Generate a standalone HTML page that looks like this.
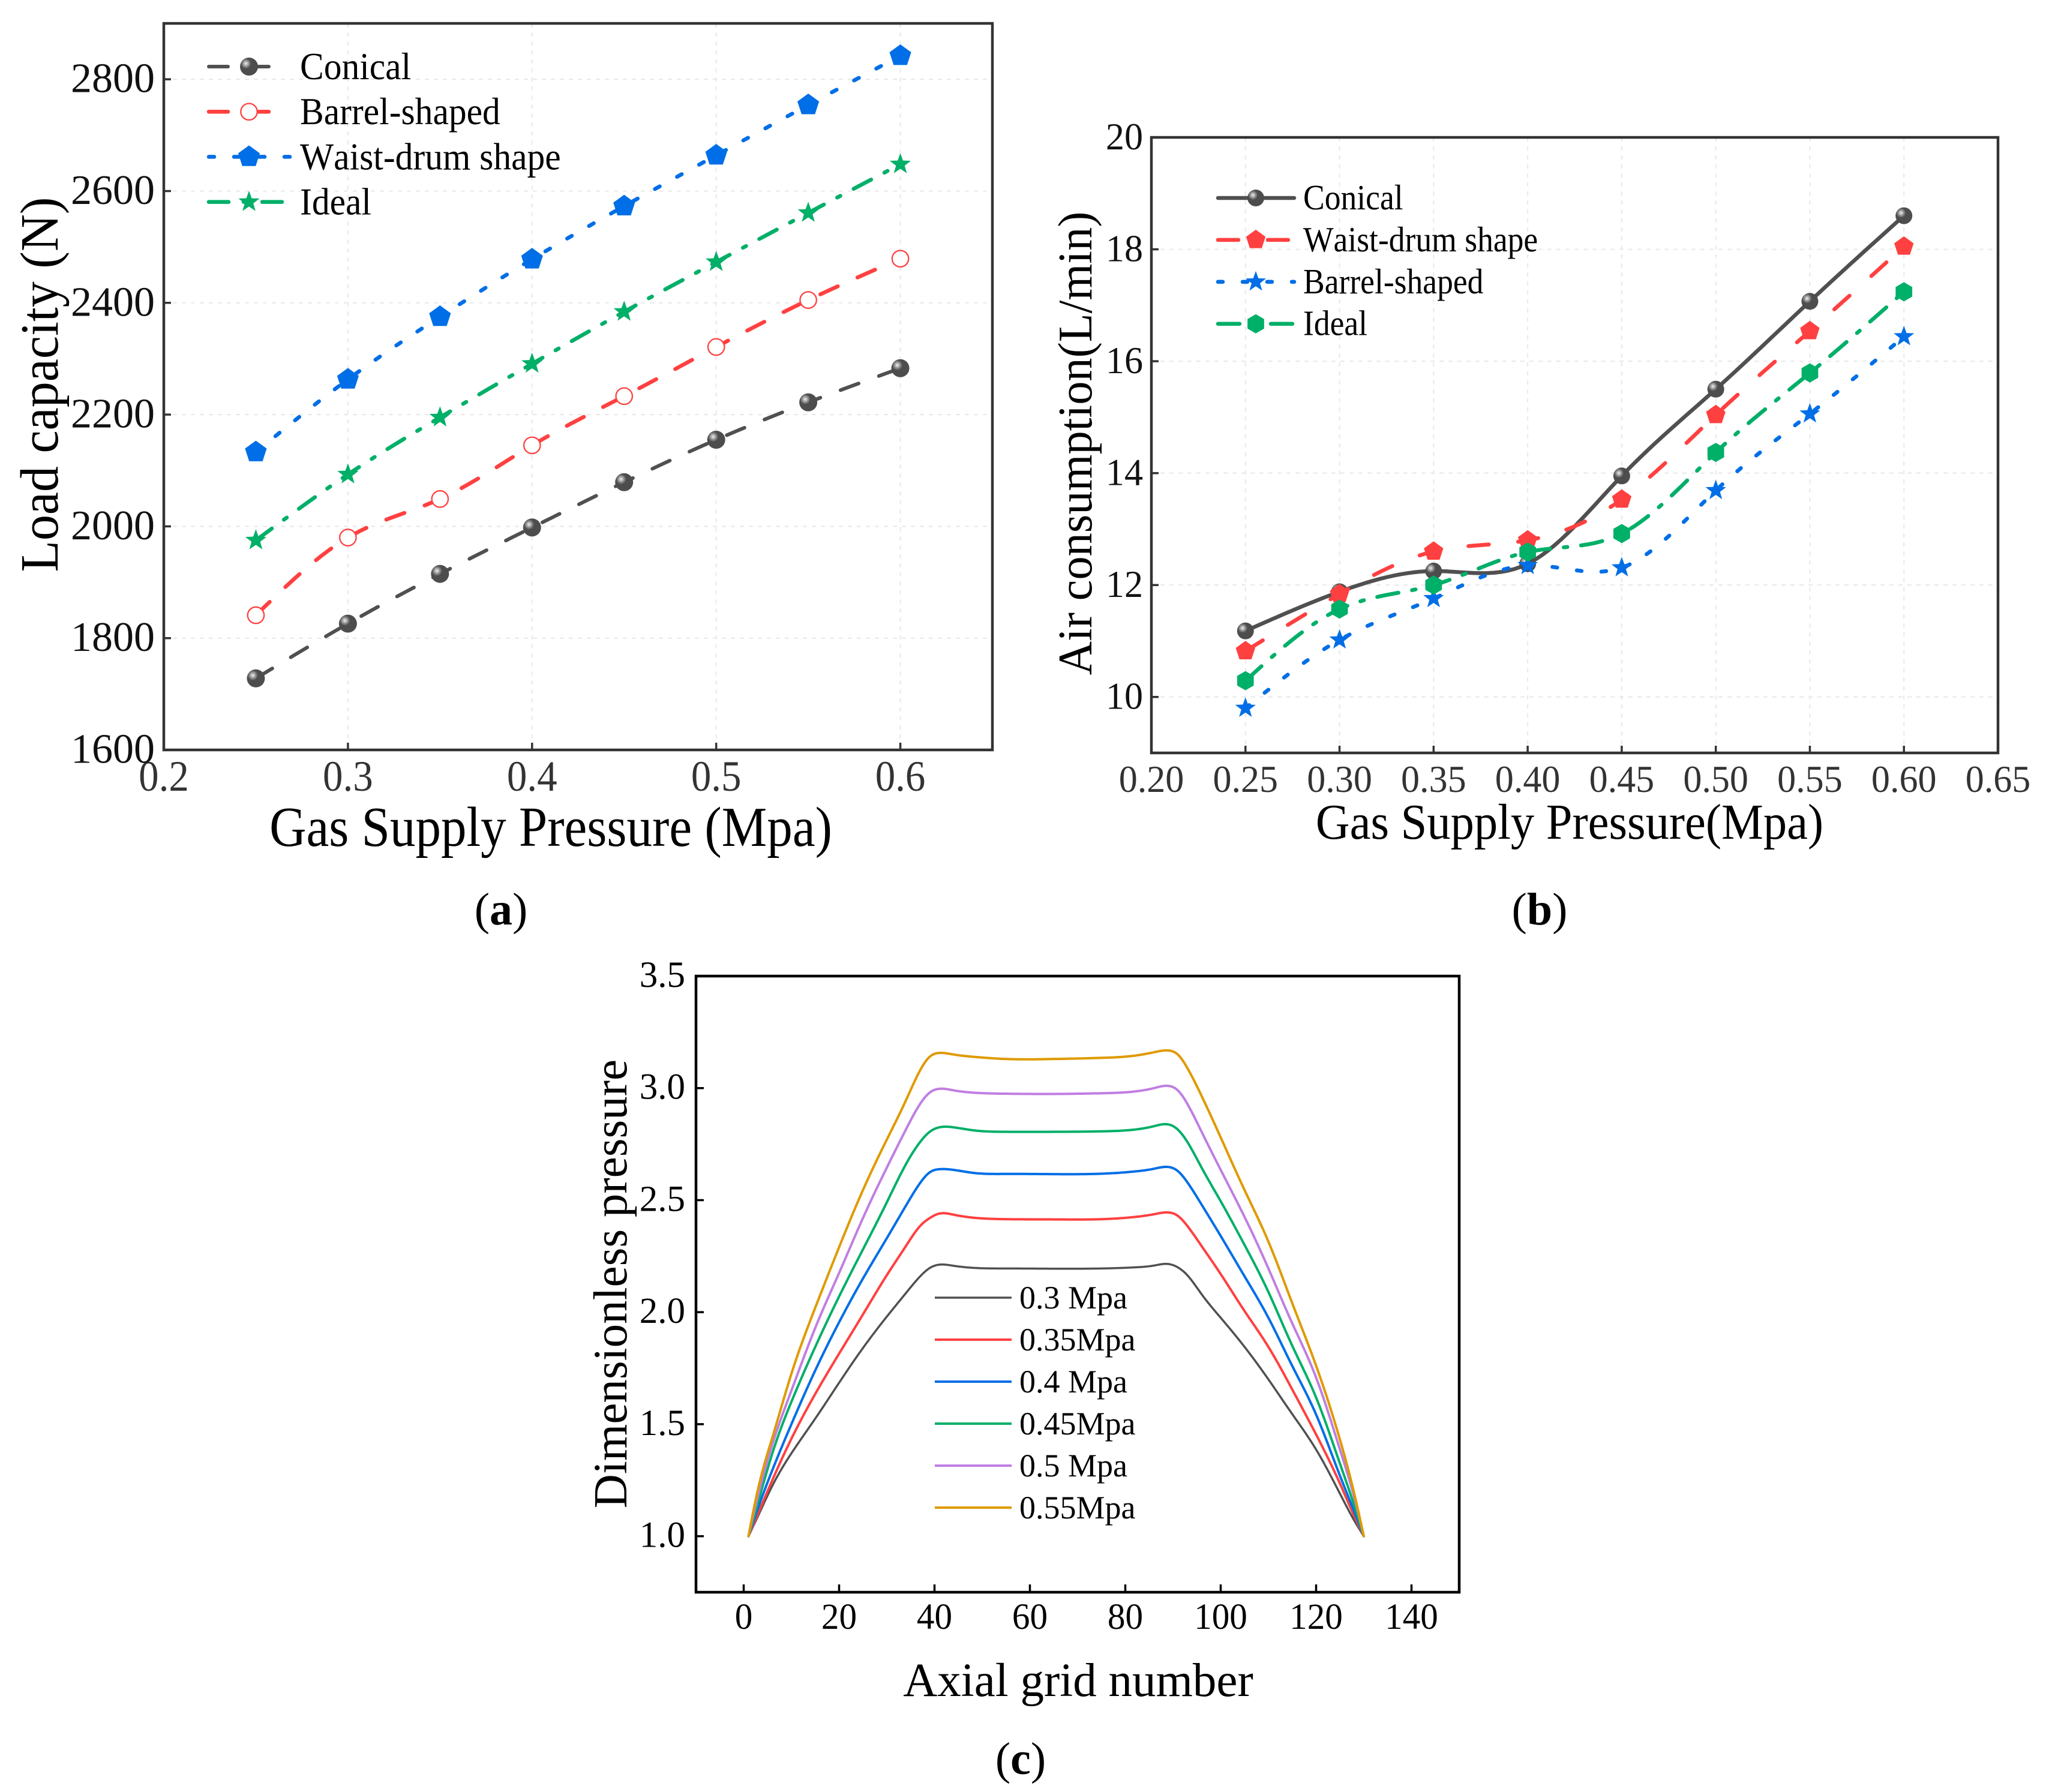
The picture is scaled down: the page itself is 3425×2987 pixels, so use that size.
<!DOCTYPE html>
<html lang="en">
<head>
<meta charset="utf-8">
<title>Load capacity, air consumption and dimensionless pressure charts</title>
<style>
html,body{margin:0;padding:0;background:#fff;}
svg{display:block;}
text{font-family:"Liberation Serif",serif;fill:#000;}
</style>
</head>
<body>
<svg id="figure" xmlns="http://www.w3.org/2000/svg" width="3425" height="2987" viewBox="0 0 3425 2987">
  <defs>
    <radialGradient id="sphere" cx="0.33" cy="0.33" r="0.29">
      <stop offset="0" stop-color="#f2f2f2"/>
      <stop offset="0.25" stop-color="#c6c6c6"/>
      <stop offset="0.6" stop-color="#8c8c8c"/>
      <stop offset="1" stop-color="#4d4d4d"/>
    </radialGradient>
  </defs>
  <rect width="3425" height="2987" fill="#fff"/>
  <g id="panel-a"></g>
  <g id="panel-b"></g>
  <g id="panel-c"></g>

  <text font-size="94" text-anchor="middle" transform="translate(918,1410) scale(0.905,1)">Gas Supply Pressure (Mpa)</text>
  <text font-size="90" text-anchor="middle" transform="translate(96,641) rotate(-90) scale(0.955,1)">Load capacity (N)</text>
  <text font-size="76" text-anchor="middle" x="835" y="1541">(<tspan font-weight="bold">a</tspan>)</text>

  <text font-size="84" text-anchor="middle" transform="translate(2616,1398) scale(0.935,1)">Gas Supply Pressure(Mpa)</text>
  <text font-size="80" text-anchor="middle" transform="translate(1819,739) rotate(-90) scale(0.98,1)">Air consumption(L/min)</text>
  <text font-size="76" text-anchor="middle" x="2566" y="1541">(<tspan font-weight="bold">b</tspan>)</text>

  <text font-size="79" text-anchor="middle" x="1797" y="2827">Axial grid number</text>
  <text font-size="79" text-anchor="middle" transform="translate(1044,2140) rotate(-90)">Dimensionless pressure</text>
  <text font-size="76" text-anchor="middle" x="1701" y="2957">(<tspan font-weight="bold">c</tspan>)</text>
</svg>

<script>
// ---------- Panel (a) data ----------
const loadPressure = [0.25, 0.30, 0.35, 0.40, 0.45, 0.50, 0.55, 0.60];
const loadConical = [1728, 1826, 1915, 1998, 2079, 2155, 2222, 2283];
const loadBarrel = [1841, 1980, 2049, 2145, 2233, 2321, 2405, 2479];
const loadWaist = [2133, 2263, 2375, 2478, 2573, 2664, 2754, 2842];
const loadIdeal = [1975, 2093, 2195, 2291, 2384, 2473, 2561, 2648];
const loadXTicks = ['0.2', '0.3', '0.4', '0.5', '0.6'];
const loadYTicks = ['1600', '1800', '2000', '2200', '2400', '2600', '2800'];

// ---------- Panel (b) data ----------
const airPressure = [0.25, 0.30, 0.35, 0.40, 0.45, 0.50, 0.55, 0.60];
const airConical = [11.18, 11.88, 12.25, 12.38, 13.95, 15.50, 17.07, 18.60];
const airWaist = [10.82, 11.84, 12.60, 12.80, 13.53, 15.04, 16.54, 18.05];
const airBarrel = [9.80, 11.02, 11.76, 12.35, 12.31, 13.69, 15.06, 16.44];
const airIdeal = [10.29, 11.57, 12.00, 12.59, 12.92, 14.37, 15.79, 17.24];
const airXTicks = ['0.20', '0.25', '0.30', '0.35', '0.40', '0.45', '0.50', '0.55', '0.60', '0.65'];
const airYTicks = ['10', '12', '14', '16', '18', '20'];

// ---------- Panel (c) data ----------
const gridNumbers = [1, 3, 6, 10, 15, 20, 25, 30, 34, 37, 39, 41, 44, 48, 55, 65, 75, 82, 86, 89, 91, 93, 96, 100, 105, 110, 115, 120, 125, 128, 130];
const pressure030 = [1, 1.09, 1.225, 1.37, 1.525, 1.685, 1.84, 1.98, 2.085, 2.16, 2.197, 2.212, 2.207, 2.198, 2.195, 2.194, 2.195, 2.2, 2.208, 2.215, 2.2, 2.165, 2.08, 1.975, 1.845, 1.7, 1.545, 1.387, 1.19, 1.07, 1];
const pressure035 = [1, 1.1, 1.25, 1.435, 1.635, 1.815, 1.99, 2.165, 2.295, 2.385, 2.42, 2.44, 2.435, 2.422, 2.415, 2.414, 2.415, 2.425, 2.437, 2.445, 2.43, 2.385, 2.295, 2.17, 2.005, 1.845, 1.655, 1.454, 1.235, 1.09, 1];
const pressure040 = [1, 1.125, 1.295, 1.5, 1.74, 1.955, 2.15, 2.33, 2.475, 2.577, 2.624, 2.638, 2.635, 2.622, 2.617, 2.616, 2.618, 2.628, 2.64, 2.648, 2.63, 2.58, 2.48, 2.34, 2.16, 1.975, 1.76, 1.543, 1.27, 1.11, 1];
const pressure045 = [1, 1.15, 1.37, 1.6, 1.845, 2.07, 2.28, 2.49, 2.66, 2.76, 2.805, 2.825, 2.825, 2.812, 2.805, 2.805, 2.807, 2.815, 2.83, 2.838, 2.815, 2.76, 2.645, 2.495, 2.3, 2.09, 1.85, 1.619, 1.324, 1.137, 1];
const pressure050 = [1, 1.18, 1.41, 1.65, 1.93, 2.175, 2.42, 2.645, 2.815, 2.93, 2.98, 2.997, 2.99, 2.98, 2.975, 2.974, 2.977, 2.985, 3, 3.01, 2.99, 2.93, 2.805, 2.635, 2.425, 2.195, 1.95, 1.708, 1.387, 1.173, 1];
const pressure055 = [1, 1.21, 1.44, 1.725, 2.02, 2.29, 2.545, 2.77, 2.945, 3.08, 3.14, 3.157, 3.15, 3.14, 3.13, 3.13, 3.135, 3.145, 3.16, 3.168, 3.15, 3.09, 2.965, 2.78, 2.545, 2.315, 2.04, 1.761, 1.431, 1.19, 1];
const gridXTicks = ['0', '20', '40', '60', '80', '100', '120', '140'];
const gridYTicks = ['1.0', '1.5', '2.0', '2.5', '3.0', '3.5'];

// ---------- Styling ----------
const GRAY = '#505050', RED = '#FF4040', BLUE = '#006EE6', GREEN = '#00AF68', PURPLE = '#C07EE2', ORANGE = '#DF9A00';
const SVGNS = 'http://www.w3.org/2000/svg';

function mk(parent, tag, attrs) {
  const el = document.createElementNS(SVGNS, tag);
  for (const k in attrs) el.setAttribute(k, attrs[k]);
  parent.appendChild(el);
  return el;
}
function linear(d0, d1, r0, r1) {
  return function (v) { return r0 + (v - d0) * (r1 - r0) / (d1 - d0); };
}
function slug(s) {
  return String(s).toLowerCase().replace(/[^a-z0-9]+/g, '-').replace(/^-|-$/g, '');
}

// Natural cubic spline through the data points, returned as an SVG path
function splinePath(xs, ys, sx, sy, steps) {
  const n = xs.length, h = [], a = [], b = [], c = [], r = [], m = new Array(n).fill(0);
  for (let i = 0; i < n - 1; i++) h[i] = xs[i + 1] - xs[i];
  for (let i = 1; i < n - 1; i++) {
    a[i] = h[i - 1];
    b[i] = 2 * (h[i - 1] + h[i]);
    c[i] = h[i];
    r[i] = 6 * ((ys[i + 1] - ys[i]) / h[i] - (ys[i] - ys[i - 1]) / h[i - 1]);
  }
  for (let i = 2; i < n - 1; i++) {
    const f = a[i] / b[i - 1];
    b[i] -= f * c[i - 1];
    r[i] -= f * r[i - 1];
  }
  for (let i = n - 2; i >= 1; i--) m[i] = (r[i] - (i < n - 2 ? c[i] * m[i + 1] : 0)) / b[i];
  let d = 'M' + sx(xs[0]).toFixed(2) + ' ' + sy(ys[0]).toFixed(2);
  for (let i = 0; i < n - 1; i++) {
    for (let s = 1; s <= steps; s++) {
      const t = s / steps, x = xs[i] + t * h[i], A = 1 - t, B = t;
      const y = A * ys[i] + B * ys[i + 1] + ((A * A * A - A) * m[i] + (B * B * B - B) * m[i + 1]) * h[i] * h[i] / 6;
      d += 'L' + sx(x).toFixed(2) + ' ' + sy(y).toFixed(2);
    }
  }
  return d;
}

function drawMarker(parent, kind, x, y, size, color, name) {
  let el;
  if (kind === 'sphere') {
    el = mk(parent, 'circle', { cx: x, cy: y, r: size, fill: 'url(#sphere)' });
  } else if (kind === 'open') {
    el = mk(parent, 'circle', { cx: x, cy: y, r: size, fill: '#fff', stroke: color, 'stroke-width': 2.3 });
  } else {
    const pts = [];
    const count = kind === 'pentagon' ? 5 : kind === 'hexagon' ? 6 : 10;
    for (let i = 0; i < count; i++) {
      const rad = kind === 'star' && i % 2 ? size * 0.41 : size;
      const ang = -Math.PI / 2 + i * 2 * Math.PI / count;
      pts.push((x + rad * Math.cos(ang)).toFixed(2) + ',' + (y + rad * Math.sin(ang)).toFixed(2));
    }
    el = mk(parent, 'polygon', { points: pts.join(' '), fill: color });
  }
  
  
}

function addLabel(parent, str, x, y, size, anchor, scaleX, fill, name, extra) {
  const el = mk(parent, 'text', {
    'font-size': size, 'text-anchor': anchor, fill: fill,
    transform: 'translate(' + x + ',' + y + ') scale(' + scaleX + ',1)', style: 'fill:' + fill + (extra || '')
  });
  el.textContent = str;
  
  
  return el;
}

function drawAxes(panel, box, sx, sy, opt) {
  if (opt.grid) {
    opt.xTicks.forEach(function (t) {
      const gl = mk(panel, 'line', { x1: sx(+t), x2: sx(+t), y1: box.t, y2: box.b, stroke: '#e8e8e8', 'stroke-width': 2, 'stroke-dasharray': '7 8' });
      
      
    });
    opt.yTicks.forEach(function (t) {
      const gl = mk(panel, 'line', { x1: box.l, x2: box.r, y1: sy(+t), y2: sy(+t), stroke: '#e8e8e8', 'stroke-width': 2, 'stroke-dasharray': '7 8' });
      
      
    });
  }
  const frame = mk(panel, 'rect', { x: box.l, y: box.t, width: box.r - box.l, height: box.b - box.t, fill: 'none', stroke: opt.axisColor, 'stroke-width': 4.5 });
  
  
  opt.xTicks.forEach(function (t) {
    const tk = mk(panel, 'line', { x1: sx(+t), x2: sx(+t), y1: box.b, y2: box.b - opt.tickLen, stroke: opt.axisColor, 'stroke-width': 3.5 });
    
    
    addLabel(panel, t, sx(+t), opt.xLabelY, opt.xSize, 'middle', opt.xScale, opt.xColor, 'x-tick-label-' + slug(t));
  });
  opt.yTicks.forEach(function (t) {
    const tk = mk(panel, 'line', { x1: box.l, x2: box.l + opt.tickLen, y1: sy(+t), y2: sy(+t), stroke: opt.axisColor, 'stroke-width': 3.5 });
    
    
    addLabel(panel, t, opt.yLabelX, sy(+t) + opt.yLabelDy, opt.ySize, 'end', opt.yScale, opt.yColor, 'y-tick-label-' + slug(t));
  });
}

function drawSeries(panel, xs, ys, sx, sy, s) {
  const g = mk(panel, 'g', {});
  
  
  const attrs = { d: splinePath(xs, ys, sx, sy, 14), fill: 'none', stroke: s.color, 'stroke-width': s.width, 'stroke-linecap': 'round', 'stroke-linejoin': 'round' };
  if (s.dash) attrs['stroke-dasharray'] = s.dash;
  const path = mk(g, 'path', attrs);
  
  
  if (s.marker) {
    xs.forEach(function (x, i) {
      drawMarker(g, s.marker, sx(x), sy(ys[i]), s.size, s.color, 'point-' + slug(s.label) + '-' + i);
    });
  }
}

function drawLegend(panel, entries, o) {
  const lg = mk(panel, 'g', {});
  
  
  entries.forEach(function (s, i) {
    const y = o.y0 + i * o.dy;
    const attrs = { x1: o.x1, x2: o.x2, y1: y, y2: y, stroke: s.color, 'stroke-width': s.width, 'stroke-linecap': s.marker ? 'round' : 'butt' };
    if (s.dash) attrs['stroke-dasharray'] = s.dash;
    const ln = mk(lg, 'line', attrs);
    
    
    if (s.marker) drawMarker(lg, s.marker, o.mx, y, s.size, s.color, 'legend-marker-' + slug(s.label));
    addLabel(lg, s.label, o.tx, y + o.tdy, o.size, 'start', o.scale, '#000', 'legend-entry-' + slug(s.label), ';font-kerning:none');
  });
}

// ---------- Panel (a) ----------
(function () {
  const panel = document.getElementById('panel-a');
  const box = { l: 273, r: 1654, t: 39, b: 1250 };
  const sx = linear(0.2, 0.65, box.l, box.r), sy = linear(1600, 2900, box.b, box.t);
  drawAxes(panel, box, sx, sy, {
    grid: true, xTicks: loadXTicks, yTicks: loadYTicks, axisColor: '#333', tickLen: 12,
    xLabelY: 1318, xSize: 72, xScale: 0.93, xColor: '#333',
    yLabelX: 258, yLabelDy: 21.5, ySize: 70, yScale: 1, yColor: '#111'
  });
  const dash = '32 36', dot = '9 33', dashDot = '33 25 6 25';
  const series = [
    { label: 'Conical', color: GRAY, dash: dash, width: 6, marker: 'sphere', size: 15, ys: loadConical },
    { label: 'Barrel-shaped', color: RED, dash: dash, width: 6.5, marker: 'open', size: 13.7, ys: loadBarrel },
    { label: 'Waist-drum shape', color: BLUE, dash: dot, width: 6.5, marker: 'pentagon', size: 19, ys: loadWaist },
    { label: 'Ideal', color: GREEN, dash: dashDot, width: 6.5, marker: 'star', size: 18.5, ys: loadIdeal }
  ];
  series.forEach(function (s) { drawSeries(panel, loadPressure, s.ys, sx, sy, s); });
  drawLegend(panel, series, { x1: 348, x2: 484, y0: 111, dy: 75.2, mx: 415, tx: 500, tdy: 21, size: 64, scale: 0.93 });
})();

// ---------- Panel (b) ----------
(function () {
  const panel = document.getElementById('panel-b');
  const box = { l: 1919, r: 3330, t: 229, b: 1255 };
  const sx = linear(0.2, 0.65, box.l, box.r), sy = linear(9, 20, box.b, box.t);
  drawAxes(panel, box, sx, sy, {
    grid: true, xTicks: airXTicks, yTicks: airYTicks, axisColor: '#333', tickLen: 12,
    xLabelY: 1320, xSize: 64, xScale: 0.97, xColor: '#333',
    yLabelX: 1905, yLabelDy: 20, ySize: 64, yScale: 0.97, yColor: '#111'
  });
  const series = [
    { label: 'Conical', color: GRAY, dash: '', width: 6.5, marker: 'sphere', size: 14, ys: airConical },
    { label: 'Waist-drum shape', color: RED, dash: '34 49', width: 6.5, marker: 'pentagon', size: 17, ys: airWaist },
    { label: 'Barrel-shaped', color: BLUE, dash: '8 33', width: 6.5, marker: 'star', size: 18, ys: airBarrel },
    { label: 'Ideal', color: GREEN, dash: '36 23 6 23', width: 6.5, marker: 'hexagon', size: 16, ys: airIdeal }
  ];
  series.forEach(function (s) { drawSeries(panel, airPressure, s.ys, sx, sy, s); });
  drawLegend(panel, series, { x1: 2030, x2: 2157, y0: 330, dy: 69.9, mx: 2093, tx: 2172, tdy: 19, size: 59, scale: 0.908 });
})();

// ---------- Panel (c) ----------
(function () {
  const panel = document.getElementById('panel-c');
  const box = { l: 1160, r: 2432, t: 1627, b: 2654 };
  const sx = linear(-10, 150, box.l, box.r), sy = linear(0.75, 3.5, box.b, box.t);
  drawAxes(panel, box, sx, sy, {
    grid: false, xTicks: gridXTicks, yTicks: gridYTicks, axisColor: '#000', tickLen: 13,
    xLabelY: 2715, xSize: 61, xScale: 0.97, xColor: '#000',
    yLabelX: 1142, yLabelDy: 18, ySize: 61, yScale: 1, yColor: '#000'
  });
  const series = [
    { label: '0.3 Mpa', color: GRAY, width: 3.5, ys: pressure030 },
    { label: '0.35Mpa', color: RED, width: 4, ys: pressure035 },
    { label: '0.4 Mpa', color: BLUE, width: 4, ys: pressure040 },
    { label: '0.45Mpa', color: GREEN, width: 4, ys: pressure045 },
    { label: '0.5 Mpa', color: PURPLE, width: 4, ys: pressure050 },
    { label: '0.55Mpa', color: ORANGE, width: 4, ys: pressure055 }
  ];
  series.forEach(function (s) { drawSeries(panel, gridNumbers, s.ys, sx, sy, s); });
  drawLegend(panel, series, { x1: 1558, x2: 1686, y0: 2163, dy: 70, mx: 0, tx: 1699, tdy: 18, size: 54, scale: 1 });
})();
</script>
</body>
</html>
